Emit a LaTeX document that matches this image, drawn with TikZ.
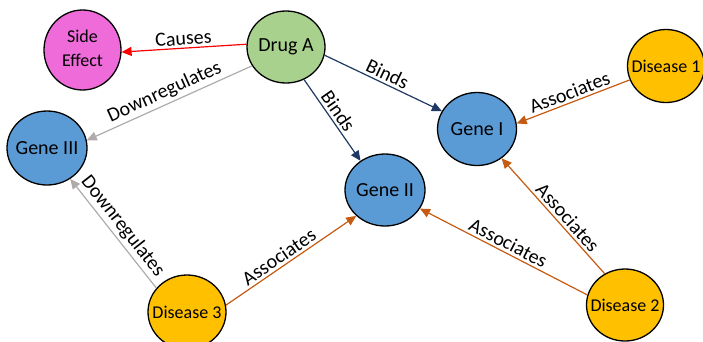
\documentclass[tikz,border=0pt]{standalone}
\usepackage{fontspec}
\setmainfont{Carlito}
\usetikzlibrary{shapes.geometric,arrows.meta}
\definecolor{pinkfill}{HTML}{EE6BD9}
\definecolor{greenfill}{HTML}{A9D18E}
\definecolor{bluefill}{HTML}{5B9BD5}
\definecolor{yellowfill}{HTML}{FFC000}
\definecolor{navyline}{HTML}{203864}
\definecolor{orangeline}{HTML}{C55A11}
\definecolor{grayline}{HTML}{AFABAB}
\definecolor{redline}{HTML}{FF0000}
\newcommand{\zw}[1]{\makebox[0pt]{#1}}
\begin{document}
\begin{tikzpicture}[x=1pt,y=-1pt,
  ent/.style={ellipse,draw=black,line width=1.3pt,inner sep=0pt,
    font=\fontsize{20}{24}\selectfont},
  entsm/.style={ent,font=\fontsize{18}{24}\selectfont},
  lab/.style={font=\fontsize{20}{24}\selectfont,sloped,above,inner sep=2.5pt,text=black},
  rel/.style={line width=1.2pt,-{Triangle[length=10pt,width=9pt]}}]
\useasboundingbox (0,0) rectangle (703,341);
\node[entsm,fill=pinkfill,minimum width=77pt,minimum height=80pt] (SE) at (82.5,50)
  {\zw{\begin{tabular}{@{}c@{}}Side\\Effect\end{tabular}}};
\node[ent,fill=greenfill,minimum width=78pt,minimum height=72pt] (DA) at (286,47) {\zw{Drug A}};
\node[ent,fill=bluefill,minimum width=80pt,minimum height=74pt] (G3) at (47,148) {\zw{Gene III}};
\node[ent,fill=bluefill,minimum width=79pt,minimum height=73pt] (G1) at (477,129) {\zw{Gene I}};
\node[entsm,fill=yellowfill,minimum width=77pt,minimum height=73pt] (D1) at (666,66) {\zw{Disease 1}};
\node[ent,fill=bluefill,minimum width=80pt,minimum height=72pt] (G2) at (385,190) {\zw{Gene II}};
\node[entsm,fill=yellowfill,minimum width=78pt,minimum height=74pt] (D3) at (187,312) {\zw{Disease 3}};
\node[entsm,fill=yellowfill,minimum width=77pt,minimum height=72pt] (D2) at (625,305) {\zw{Disease 2}};

\draw[rel,redline] (DA.176) -- node[lab]{Causes} (SE.-3);
\draw[rel,grayline] (DA.209) -- node[lab]{Downregulates} (G3.11);
\draw[rel,navyline] (DA.-12) -- node[lab]{Binds} (G1.153);
\draw[rel,navyline] (DA.-61) -- node[lab,pos=0.46]{Binds} (G2.130);
\draw[rel,orangeline] (D1.201) -- node[lab]{Associates} (G1.8);
\draw[rel,orangeline] (D2.123) -- node[lab,pos=0.43]{Associates} (G1.-50);
\draw[rel,orangeline] (D2.165) -- node[lab]{Associates} (G2.-28);
\draw[rel,orangeline] (D3.10) -- node[lab,pos=0.45]{Associates} (G2.222);
\draw[rel,grayline] (D3.142) -- node[lab]{Downregulates} (G3.-53);
\end{tikzpicture}
\end{document}
